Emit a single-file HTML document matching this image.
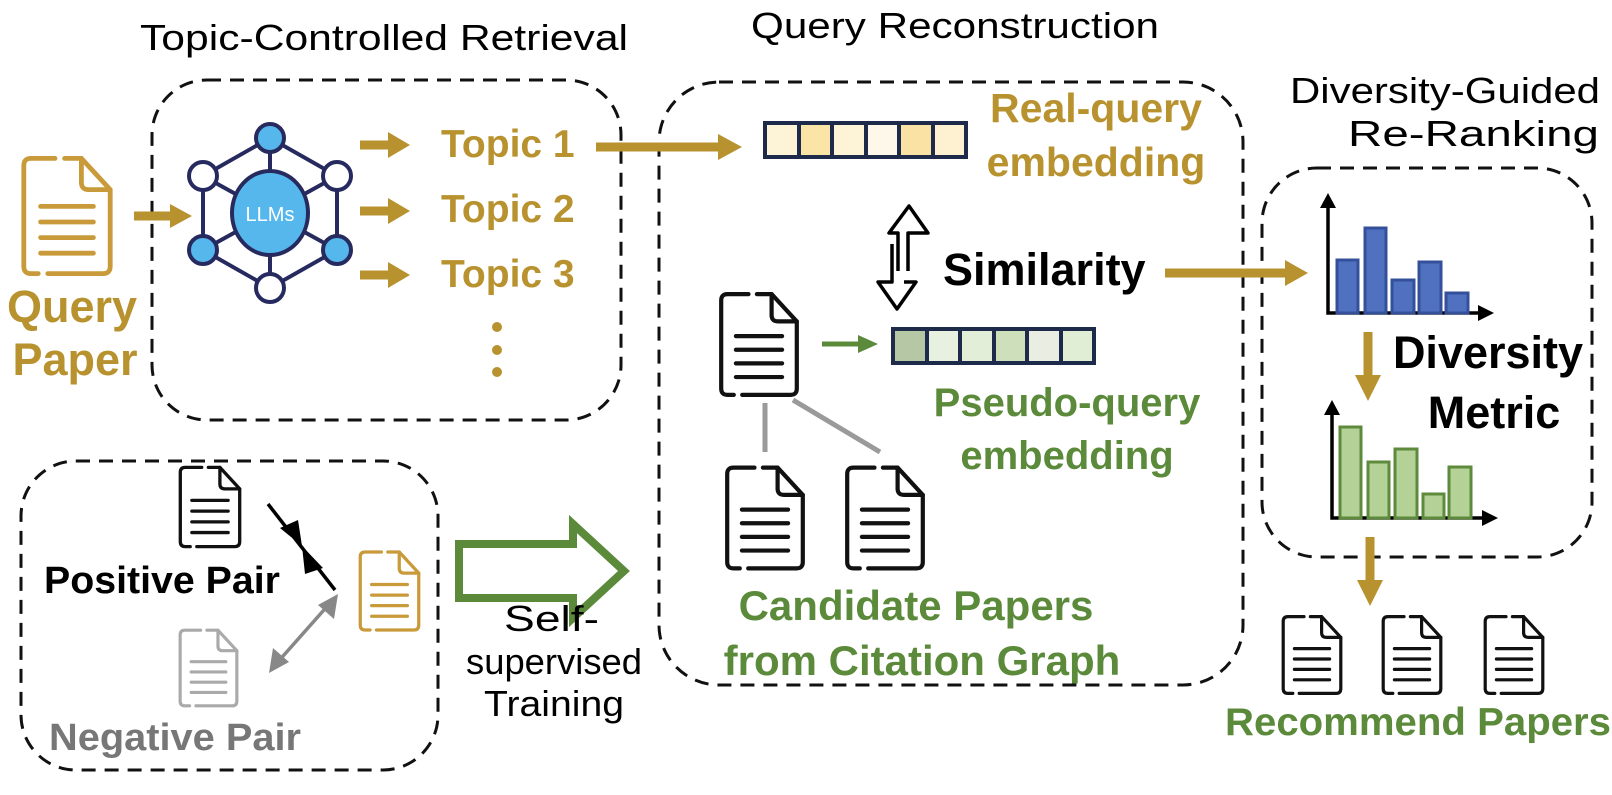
<!DOCTYPE html>
<html><head><meta charset="utf-8"><style>
html,body{margin:0;padding:0;background:#fff;}
svg{display:block;}
text{font-family:"Liberation Sans",sans-serif;}
.b{font-weight:bold;}
</style></head><body>
<svg width="1612" height="795" viewBox="0 0 1612 795" xmlns="http://www.w3.org/2000/svg">
<defs>
<symbol id="doc" viewBox="0 0 80 100">
<g fill="none" stroke="currentColor" stroke-width="4" stroke-linecap="round" stroke-linejoin="round">
<path d="M30,2 H10 Q4,2 4,8 V92 Q4,98 10,98 H16 M24,98 H70 Q76,98 76,92 V28 L52,2 H38"/>
<path d="M52,2 V22 Q52,28 58,28 H76"/>
<path d="M18,42 H62 M18,55 H62 M18,68 H62 M18,81 H62"/>
</g>
</symbol>
</defs>

<!-- titles -->
<text x="140" y="50" font-size="36" textLength="488" lengthAdjust="spacingAndGlyphs">Topic-Controlled Retrieval</text>
<text x="751" y="38" font-size="36" textLength="408" lengthAdjust="spacingAndGlyphs">Query Reconstruction</text>
<text x="1290" y="103" font-size="36" textLength="310" lengthAdjust="spacingAndGlyphs">Diversity-Guided</text>
<text x="1348" y="146" font-size="36" textLength="251" lengthAdjust="spacingAndGlyphs">Re-Ranking</text>

<!-- dashed boxes -->
<g fill="none" stroke="#111" stroke-width="3" stroke-dasharray="14,9">
<rect x="152" y="80" width="469" height="340" rx="55"/>
<rect x="659" y="82" width="584" height="603" rx="60"/>
<rect x="1262" y="168" width="330" height="389" rx="55"/>
<rect x="21" y="461" width="417" height="309" rx="55"/>
</g>

<!-- query paper -->
<use href="#doc" x="19" y="149" width="96" height="134" style="color:#c99a3a"/>
<text x="72" y="322" font-size="45" class="b" fill="#b8922f" text-anchor="middle">Query</text>
<text x="75" y="375" font-size="45" class="b" fill="#b8922f" text-anchor="middle">Paper</text>

<g stroke="#b8922f" stroke-width="9" fill="none">
<line x1="134" y1="216" x2="175" y2="216"/>
<line x1="360" y1="145" x2="392" y2="145"/>
<line x1="360" y1="211" x2="392" y2="211"/>
<line x1="360" y1="275" x2="392" y2="275"/>
<line x1="596" y1="147" x2="722" y2="147"/>
<line x1="1165" y1="273" x2="1290" y2="273"/>
<line x1="1368" y1="332" x2="1368" y2="380"/>
<line x1="1370" y1="537" x2="1370" y2="585"/>
</g>
<g fill="#b8922f">
<path d="M170,204 L192,216 L170,228 Z"/>
<path d="M388,132 L410,145 L388,158 Z"/>
<path d="M388,198 L410,211 L388,224 Z"/>
<path d="M388,262 L410,275 L388,288 Z"/>
<path d="M718,134 L742,147 L718,160 Z"/>
<path d="M1285,260 L1308,273 L1285,286 Z"/>
<path d="M1355,375 L1381,375 L1368,401 Z"/>
<path d="M1357,580 L1383,580 L1370,606 Z"/>
<circle cx="497" cy="327" r="5"/><circle cx="497" cy="350" r="5"/><circle cx="497" cy="372" r="5"/>
</g>

<!-- LLM hex -->
<g stroke="#262a5e" stroke-width="4">
<path d="M270,138 L203,176 L203,250 L270,288 L337,250 L337,176 Z" fill="none"/>
<line x1="270" y1="138" x2="270" y2="288"/>
<line x1="203" y1="176" x2="337" y2="250"/>
<line x1="337" y1="176" x2="203" y2="250"/>
<ellipse cx="270" cy="213" rx="38" ry="42" fill="#55b7ec"/>
<circle cx="270" cy="138" r="14" fill="#55b7ec"/>
<circle cx="203" cy="176" r="14" fill="#fff"/>
<circle cx="337" cy="176" r="14" fill="#fff"/>
<circle cx="203" cy="250" r="14" fill="#55b7ec"/>
<circle cx="337" cy="250" r="14" fill="#55b7ec"/>
<circle cx="270" cy="288" r="14" fill="#fff"/>
</g>
<text x="270" y="221" font-size="20" fill="#fff" text-anchor="middle">LLMs</text>

<g font-size="39" class="b" fill="#b8922f">
<text x="441" y="157">Topic 1</text>
<text x="441" y="222">Topic 2</text>
<text x="441" y="287">Topic 3</text>
</g>

<!-- real-query bar -->
<g stroke="#1e2a4a" stroke-width="4">
<rect x="765" y="123" width="34" height="34" fill="#fdf3d6"/>
<rect x="799" y="123" width="33" height="34" fill="#fbe5a6"/>
<rect x="832" y="123" width="34" height="34" fill="#fdf3d6"/>
<rect x="866" y="123" width="33" height="34" fill="#fef8ea"/>
<rect x="899" y="123" width="34" height="34" fill="#f9e2a4"/>
<rect x="933" y="123" width="33" height="34" fill="#fdf1d2"/>
</g>
<text x="1096" y="122" font-size="41" class="b" fill="#b8922f" text-anchor="middle">Real-query</text>
<text x="1096" y="176" font-size="41" class="b" fill="#b8922f" text-anchor="middle">embedding</text>

<!-- double arrow -->
<path d="M908,271 V233 H928 L909,206 L889,233 H898 V271" fill="none" stroke="#000" stroke-width="3.5" stroke-linejoin="round"/>
<path d="M892,244 V282 H878 L897,309 L916,282 H904" fill="none" stroke="#000" stroke-width="3.5" stroke-linejoin="round"/>
<text x="943" y="285" font-size="45" class="b" fill="#000">Similarity</text>

<!-- pseudo -->
<use href="#doc" x="716" y="292" width="86" height="105" style="color:#111"/>
<line x1="822" y1="344" x2="862" y2="344" stroke="#5b8a3a" stroke-width="5"/>
<path d="M858,335 L878,344 L858,353 Z" fill="#5b8a3a"/>
<g stroke="#1e2a4a" stroke-width="4">
<rect x="893" y="329" width="34" height="34" fill="#b5c7a4"/>
<rect x="927" y="329" width="33" height="34" fill="#e8f0df"/>
<rect x="960" y="329" width="34" height="34" fill="#e3eed8"/>
<rect x="994" y="329" width="33" height="34" fill="#cde0bb"/>
<rect x="1027" y="329" width="34" height="34" fill="#eaeee2"/>
<rect x="1061" y="329" width="33" height="34" fill="#e1eed6"/>
</g>
<text x="1067" y="416" font-size="40" class="b" fill="#5b8a3a" text-anchor="middle">Pseudo-query</text>
<text x="1067" y="469" font-size="40" class="b" fill="#5b8a3a" text-anchor="middle">embedding</text>
<g stroke="#9a9a9a" stroke-width="5">
<line x1="765" y1="403" x2="765" y2="452"/>
<line x1="793" y1="400" x2="880" y2="452"/>
</g>
<use href="#doc" x="723" y="465" width="84" height="106" style="color:#111"/>
<use href="#doc" x="843" y="465" width="84" height="106" style="color:#111"/>
<text x="916" y="620" font-size="42" class="b" fill="#5b8a3a" text-anchor="middle">Candidate Papers</text>
<text x="922" y="675" font-size="42" class="b" fill="#5b8a3a" text-anchor="middle">from Citation Graph</text>

<!-- charts -->
<g stroke="#000" stroke-width="3.5" fill="none">
<polyline points="1328,205 1328,313 1480,313"/>
<polyline points="1332,412 1332,518 1484,518"/>
</g>
<g fill="#000">
<path d="M1320,208 L1328,193 L1336,208 Z"/><path d="M1478,305 L1494,313 L1478,321 Z"/>
<path d="M1324,415 L1332,400 L1340,415 Z"/><path d="M1482,510 L1498,518 L1482,526 Z"/>
</g>
<g fill="#4f71c0" stroke="#34509a" stroke-width="3">
<rect x="1337" y="260" width="21" height="53"/>
<rect x="1365" y="228" width="21" height="85"/>
<rect x="1392" y="280" width="22" height="33"/>
<rect x="1419" y="262" width="22" height="51"/>
<rect x="1446" y="293" width="22" height="20"/>
</g>
<g fill="#b4d198" stroke="#5e8a3c" stroke-width="3">
<rect x="1340" y="427" width="21" height="91"/>
<rect x="1368" y="462" width="21" height="56"/>
<rect x="1395" y="449" width="22" height="69"/>
<rect x="1423" y="494" width="21" height="24"/>
<rect x="1449" y="467" width="22" height="51"/>
</g>
<text x="1488" y="368" font-size="45" class="b" fill="#000" text-anchor="middle">Diversity</text>
<text x="1494" y="428" font-size="45" class="b" fill="#000" text-anchor="middle">Metric</text>

<!-- recommend -->
<use href="#doc" x="1280" y="608" width="64" height="94" style="color:#111"/>
<use href="#doc" x="1380" y="608" width="64" height="94" style="color:#111"/>
<use href="#doc" x="1482" y="608" width="64" height="94" style="color:#111"/>
<text x="1418" y="735" font-size="39" class="b" fill="#5b8a3a" text-anchor="middle" textLength="386" lengthAdjust="spacingAndGlyphs">Recommend Papers</text>

<!-- bottom-left -->
<use href="#doc" x="177" y="460" width="66" height="94" style="color:#111"/>
<text x="44" y="593" font-size="38" class="b" fill="#000" textLength="236" lengthAdjust="spacingAndGlyphs">Positive Pair</text>
<line x1="268" y1="504" x2="335" y2="590" stroke="#000" stroke-width="3.5"/>
<path d="M280,528 L302,546 L298,520 Z" fill="#000"/>
<path d="M323,568 L302,546 L305,574 Z" fill="#000"/>
<use href="#doc" x="357" y="543" width="65" height="96" style="color:#c99a3a"/>
<line x1="276" y1="664" x2="331" y2="602" stroke="#888" stroke-width="3.5"/>
<path d="M338,594 L334,619 L318,605 Z" fill="#888"/>
<path d="M269,673 L273,648 L289,662 Z" fill="#888"/>
<use href="#doc" x="177" y="625" width="63" height="86" style="color:#aaa"/>
<text x="49" y="750" font-size="38" class="b" fill="#777" textLength="252" lengthAdjust="spacingAndGlyphs">Negative Pair</text>

<!-- big hollow arrow -->
<path d="M459,544 H573 V524 L624,571 L573,618 V598 H459 Z" fill="none" stroke="#5b8a3a" stroke-width="8" stroke-linejoin="miter"/>
<text x="504" y="631" font-size="36" textLength="95" lengthAdjust="spacingAndGlyphs">Self-</text>
<text x="466" y="674" font-size="36" textLength="176" lengthAdjust="spacingAndGlyphs">supervised</text>
<text x="484" y="716" font-size="36" textLength="140" lengthAdjust="spacingAndGlyphs">Training</text>
</svg>
</body></html>
